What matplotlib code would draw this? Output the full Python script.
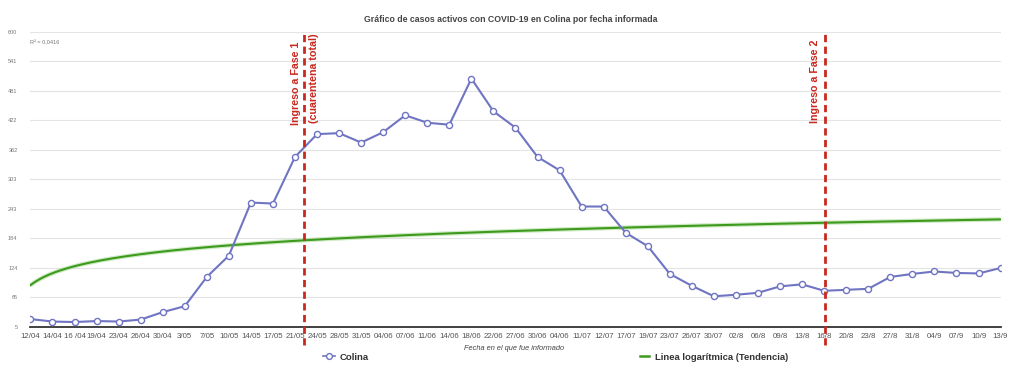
import numpy as np
import matplotlib
matplotlib.use("Agg")
import matplotlib.pyplot as plt
from matplotlib.lines import Line2D

plt.rcParams['font.family'] = ['Liberation Sans', 'DejaVu Sans']

title = "Gráfico de casos activos con COVID-19 en Colina por fecha informada"
xlabel = "Fecha en el que fue informado"

fechas = ["12/04", "14/04", "16 /04", "19/04", "23/04", "26/04", "30/04", "3/05",
          "7/05", "10/05", "14/05", "17/05", "21/05", "24/05", "28/05", "31/05",
          "04/06", "07/06", "11/06", "14/06", "18/06", "22/06", "27/06", "30/06",
          "04/06", "11/07", "12/07", "17/07", "19/07", "23/07", "26/07", "30/07",
          "02/8", "06/8", "09/8", "13/8", "16/8", "20/8", "23/8", "27/8", "31/8",
          "04/9", "07/9", "10/9", "13/9"]

colina = [21, 16, 15, 17, 16, 20, 35, 47, 106, 149, 256, 254, 348, 394, 396, 377,
          398, 432, 417, 413, 506, 440, 407, 348, 321, 248, 248, 195, 168, 112,
          88, 67, 70, 74, 87, 91, 78, 80, 82, 106, 112, 117, 114, 113, 124]

y_ticks = [5, 65, 124, 184, 243, 303, 362, 422, 481, 541, 600]

# event markers (position on category axis, 0-based) and labels
fase1_pos = 12.42
fase2_pos = 36.05
fase1_labels = ["Ingreso a Fase 1", "(cuarentena total)"]
fase2_label = "Ingreso a Fase 2"
r2_text = "R² = 0,0416"

blue = "#6f74c3"
green = "#3d9a1c"
red = "#c9281e"

fig = plt.figure(figsize=(10.24, 3.70), dpi=100)
ax = fig.add_axes([30/1024, 43/370, 971/1024, 295/370])

x = np.arange(len(colina))
y = np.array(colina, dtype=float)

# logarithmic trend line fitted to the data (category index 1..n)
xi = x + 1
b, a = np.polyfit(np.log(xi), y, 1)
xs = np.linspace(1, len(colina), 400)
trend = a + b * np.log(xs)
ax.plot(xs - 1, trend, color="#9fd68a", lw=3.2, alpha=0.5, zorder=2, solid_capstyle='butt')
ax.plot(xs - 1, trend, color=green, lw=1.5, zorder=3)

ax.plot(x, y, color=blue, lw=1.5, marker='o', ms=4.4, mfc='white', mec=blue,
        mew=1.0, zorder=4)

ax.set_xlim(-0.02, len(colina) - 1 + 0.02)
ax.set_ylim(5, 600)
ax.set_yticks(y_ticks)
ax.set_yticklabels([str(v) for v in y_ticks])
ax.set_xticks(x)
ax.set_xticklabels(fechas)

ax.grid(axis='y', color='#e4e4e4', lw=0.8)
ax.set_axisbelow(True)
for s in ['top', 'right', 'left']:
    ax.spines[s].set_visible(False)
ax.spines['bottom'].set_color('#333333')
ax.spines['bottom'].set_linewidth(1.3)
ax.tick_params(axis='x', length=0, pad=4, labelsize=5.7, labelcolor='#555555')
ax.tick_params(axis='y', length=0, pad=9, labelsize=4.0, labelcolor='#777777')

# vertical event lines
for pos in [fase1_pos, fase2_pos]:
    ax.plot([pos, pos], [-31, 600], color=red, lw=2.0, dashes=(2.6, 1.6),
            clip_on=False, zorder=5)

ax.text(fase1_pos - 0.38, 413, fase1_labels[0], rotation=90, color=red,
        fontsize=7.7, fontweight='bold', ha='center', va='bottom', zorder=6)
ax.text(fase1_pos + 0.42, 417, fase1_labels[1], rotation=90, color=red,
        fontsize=7.7, fontweight='bold', ha='center', va='bottom', zorder=6)
ax.text(fase2_pos - 0.45, 416, fase2_label, rotation=90, color=red,
        fontsize=7.7, fontweight='bold', ha='center', va='bottom', zorder=6)

ax.text(0, 578, r2_text, fontsize=4.0, color='#777777', ha='left', va='center')

fig.text(511/1024, 1 - 19/370, title, ha='center', va='center', fontsize=6.3,
         fontweight='bold', color='#444444')
fig.text(514/1024, 1 - 349/370, xlabel, ha='center', va='center', fontsize=5.3,
         style='italic', color='#444444')

# legend
h1 = Line2D([], [], color=blue, lw=1.2, marker='o', ms=4.2, mfc='white', mec=blue, mew=1.0)
h2 = Line2D([], [], color=green, lw=1.8)
leg1 = fig.legend([h1], ["Colina"], loc='center left', bbox_to_anchor=(314/1024, 1 - 357/370),
                  frameon=False, handlelength=1.3, handletextpad=0.5,
                  prop={'size': 6.8, 'weight': 'bold'})
leg2 = fig.legend([h2], ["Linea logarítmica (Tendencia)"], loc='center left',
                  bbox_to_anchor=(631/1024, 1 - 357/370), frameon=False,
                  handlelength=1.0, handletextpad=0.6,
                  prop={'size': 6.8, 'weight': 'bold'})
for leg in (leg1, leg2):
    for t in leg.get_texts():
        t.set_color('#333333')

fig.savefig("out.png", dpi=100, facecolor='white')
